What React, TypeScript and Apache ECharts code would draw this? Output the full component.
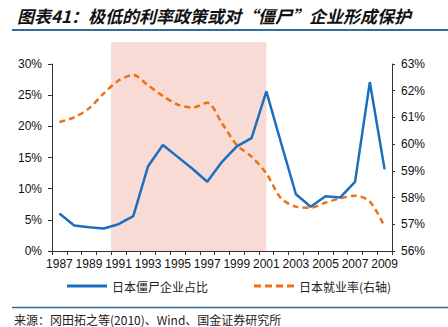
import React, { useEffect, useRef } from "react";
import * as echarts from "echarts";

const years = ["1987","1988","1989","1990","1991","1992","1993","1994","1995","1996","1997","1998","1999","2000","2001","2002","2003","2004","2005","2006","2007","2008","2009"];
const zombieShare = [6.0, 4.1, 3.8, 3.6, 4.3, 5.6, 13.6, 17.0, 15.1, 13.2, 11.1, 14.3, 16.8, 18.1, 25.6, 17.3, 9.1, 7.1, 8.8, 8.6, 11.1, 27.1, 13.1];
const employmentRate = [60.83, 61.0, 61.34, 61.9, 62.38, 62.59, 62.2, 61.8, 61.48, 61.37, 61.55, 60.78, 59.97, 59.53, 58.9, 57.97, 57.66, 57.62, 57.81, 57.97, 58.07, 57.85, 56.91];
const shadeFrom = ["1990", "1991"];
const shadeTo = "2001";

const FONT = "'Liberation Sans', Arial, sans-serif";
const CJK = "'Noto Sans CJK SC', sans-serif";
const DASH_ICON = "path://M0,0h7v3h-7z M11,0h7v3h-7z M22,0h7v3h-7z M33,0h7v3h-7z";

export default function App() {
  const ref = useRef<HTMLDivElement>(null);
  useEffect(() => {
    if (!ref.current) return;
    const chart = echarts.init(ref.current, null, { renderer: "svg" });
    chart.setOption({
      animation: false,
      grid: { left: 52, right: 56, top: 64, bottom: 76 },
      legend: {
        bottom: 30,
        left: 62,
        itemWidth: 40,
        itemHeight: 3,
        itemGap: 46,
        textStyle: { fontFamily: CJK, fontSize: 12, color: "#222" },
        data: [
          { name: "日本僵尸企业占比", icon: "rect" },
          { name: "日本就业率(右轴)", icon: DASH_ICON },
        ],
      },
      xAxis: {
        type: "category",
        data: years,
        boundaryGap: true,
        axisLine: { lineStyle: { color: "#333", width: 1 } },
        axisTick: { show: true, alignWithLabel: false, length: 4, interval: 0, lineStyle: { color: "#333" } },
        axisLabel: { interval: 1, color: "#111", fontFamily: FONT, fontSize: 12, margin: 7 },
        splitLine: { show: false },
      },
      yAxis: [
        {
          type: "value",
          min: 0,
          max: 30,
          interval: 5,
          axisLine: { show: true, lineStyle: { color: "#333" } },
          axisTick: { show: true, length: 4, lineStyle: { color: "#333" } },
          axisLabel: { formatter: "{value}%", color: "#111", fontFamily: FONT, fontSize: 12, margin: 10 },
          splitLine: { show: false },
        },
        {
          type: "value",
          min: 56,
          max: 63,
          interval: 1,
          position: "right",
          axisLine: { show: true, lineStyle: { color: "#333" } },
          axisTick: { show: true, length: 3, lineStyle: { color: "#333" } },
          axisLabel: { formatter: "{value}%", color: "#111", fontFamily: FONT, fontSize: 12, margin: 9 },
          splitLine: { show: false },
        },
      ],
      series: [
        {
          name: "日本僵尸企业占比",
          type: "line",
          data: zombieShare,
          yAxisIndex: 0,
          symbol: "none",
          lineStyle: { color: "#1a6fc0", width: 2.5 },
          itemStyle: { color: "#1a6fc0" },
          z: 3,
        },
        {
          name: "日本就业率(右轴)",
          type: "line",
          data: employmentRate,
          yAxisIndex: 1,
          symbol: "none",
          smooth: 0.3,
          lineStyle: { color: "#ee7015", width: 2.5, type: [6, 4] },
          itemStyle: { color: "#ee7015" },
          z: 2,
        },
      ],
    });

    const c0 = chart.convertToPixel({ xAxisIndex: 0 }, shadeFrom[0]) as number;
    const c1 = chart.convertToPixel({ xAxisIndex: 0 }, shadeFrom[1]) as number;
    const c2 = chart.convertToPixel({ xAxisIndex: 0 }, shadeTo) as number;
    const yTop = (chart.convertToPixel({ yAxisIndex: 0 }, 30) as number) - 22;
    const yBot = chart.convertToPixel({ yAxisIndex: 0 }, 0) as number;
    const x0 = (c0 + c1) / 2;

    chart.setOption({
      graphic: [
        {
          type: "rect",
          z: -10,
          shape: { x: x0, y: yTop, width: c2 - x0, height: yBot - yTop },
          style: { fill: "#f9dbd6" },
          silent: true,
        },
        {
          type: "text",
          x: 17,
          y: 15,
          style: {
            text: "图表41：极低的利率政策或对“僵尸”企业形成保护",
            fontFamily: CJK,
            fontSize: 17,
            fontStyle: "italic",
            fontWeight: "bold",
            fill: "#111",
            verticalAlign: "middle",
          },
        },
        {
          type: "line",
          shape: { x1: 12, y1: 30, x2: 448, y2: 30 },
          style: { stroke: "#2f6e9c", lineWidth: 2 },
        },
        {
          type: "line",
          shape: { x1: 12, y1: 307.5, x2: 448, y2: 307.5 },
          style: { stroke: "#2f6e9c", lineWidth: 1.5 },
        },
        {
          type: "text",
          x: 14,
          y: 319,
          style: {
            text: "来源：冈田拓之等(2010)、Wind、国金证券研究所",
            fontFamily: CJK,
            fontSize: 12,
            fill: "#222",
            verticalAlign: "middle",
          },
        },
      ],
    });
    return () => chart.dispose();
  }, []);
  return (
    <div
      ref={ref}
      style={{ position: "fixed", left: 0, top: 0, width: 448, height: 327, background: "#fff" }}
    />
  );
}
